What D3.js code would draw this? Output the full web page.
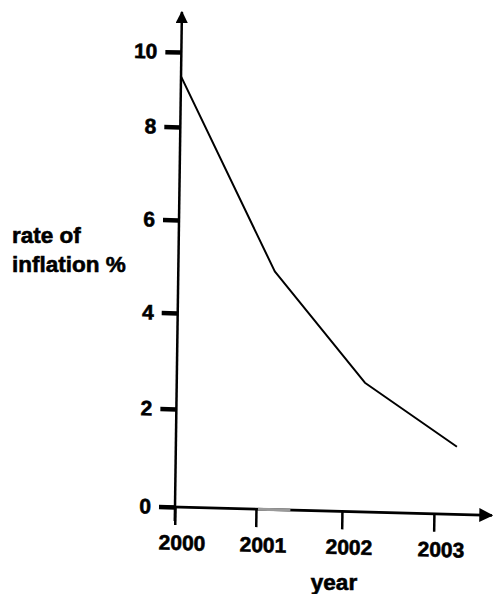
<!DOCTYPE html>
<html>
<head>
<meta charset="utf-8">
<script src="https://cdn.jsdelivr.net/npm/d3@7"></script>
<style>
  body { margin: 0; background: white; }
  svg { display: block; }
  text { font-family: "Liberation Sans", Arial, sans-serif; font-weight: bold; fill: black; stroke: black; stroke-width: 0.6px; }
</style>
</head>
<body>
<svg id="chart" width="495" height="594"></svg>
<script>
// values
let years = [2000, 2001.18, 2002.23, 2003.24]
let rates = [9.35, 4.95, 2.65, 1.38]
let x_ticks = [2000, 2001, 2002, 2003]
let y_ticks = [0, 2, 4, 6, 8, 10]
let y_label = ["rate of", "inflation %"]
let x_label = "year"

let origin_x = 175
let origin_y = 507

let svg = d3.select("#chart")

// the sketch is drawn by hand, so the tick spacing is not even - polylinear scales
let x = d3.scaleLinear()
    .domain(x_ticks)
    .range([0, 81, 167, 259])
let y = d3.scaleLinear()
    .domain(y_ticks)
    .range([0, -98, -194, -287, -380, -455])

// axes lean a little (scan is skewed), x axis ~1.5deg, y axis ~0.8deg
let a = Math.cos(1.5 * Math.PI / 180), b = Math.sin(1.5 * Math.PI / 180)
let c = -Math.sin(0.8 * Math.PI / 180), d = Math.cos(0.8 * Math.PI / 180)
let g = svg.append("g")
    .attr("transform", "matrix(" + [a, b, c, d, origin_x, origin_y].join(",") + ")")

//arrow heads
let defs = svg.append("defs")
defs.append("marker")
    .attr("id", "arrow")
    .attr("viewBox", "0 0 10 10")
    .attr("refX", 9).attr("refY", 5)
    .attr("markerWidth", 5).attr("markerHeight", 5)
    .attr("markerUnits", "strokeWidth")
    .attr("orient", "auto")
    .append("path")
    .attr("d", "M0,0 L10,5 L0,10 Z")
    .attr("fill", "black")

//y-axis
let yAxis = g.append("g")
    .call(d3.axisLeft(y).tickValues(y_ticks).tickSize(16).tickPadding(8).tickFormat(d3.format("d")))
yAxis.select(".domain").remove()
yAxis.selectAll(".tick line").attr("stroke", "black").attr("stroke-width", 4.5)
yAxis.selectAll(".tick text").style("font-size", "21px")

g.append("line")
    .attr("x1", 0).attr("y1", 14)
    .attr("x2", 0).attr("y2", y(10) - 40)
    .attr("stroke", "black")
    .attr("stroke-width", 2.5)
    .attr("marker-end", "url(#arrow)")

//x-axis
let xAxis = g.append("g")
    .call(d3.axisBottom(x).tickValues(x_ticks).tickSize(18).tickPadding(10).tickFormat(d3.format("d")))
xAxis.select(".domain").remove()
xAxis.selectAll(".tick line").attr("stroke", "black").attr("stroke-width", 2.5)
xAxis.selectAll(".tick text").style("font-size", "21px").attr("dx", 7)

g.append("line")
    .attr("x1", -14).attr("y1", 0)
    .attr("x2", x(2003) + 58).attr("y2", 0)
    .attr("stroke", "black")
    .attr("stroke-width", 2.8)
    .attr("marker-end", "url(#arrow)")

// grey smudge on the axis just right of 2001
g.append("line")
    .attr("x1", x(2001) + 2).attr("y1", 0)
    .attr("x2", x(2001.4)).attr("y2", 0)
    .attr("stroke", "#9a9a9a")
    .attr("stroke-width", 3)

//plot data
let data = years.map((yr, i) => ({year: yr, rate: rates[i]}))
g.append("path")
    .datum(data)
    .attr("fill", "none")
    .attr("stroke", "black")
    .attr("stroke-width", 2)
    .attr("stroke-linejoin", "round")
    .attr("d", d3.line().x(p => x(p.year)).y(p => y(p.rate)))

//axis labels
svg.append("text")
    .attr("x", 12)
    .attr("y", 243)
    .style("font-size", "22.5px")
    .selectAll("tspan").data(y_label).join("tspan")
    .attr("x", 12)
    .attr("dy", (t, i) => i == 0 ? 0 : 29)
    .text(t => t)

svg.append("text")
    .attr("text-anchor", "middle")
    .attr("x", 334)
    .attr("y", 590)
    .style("font-size", "22.5px")
    .text(x_label)
</script>
</body>
</html>
